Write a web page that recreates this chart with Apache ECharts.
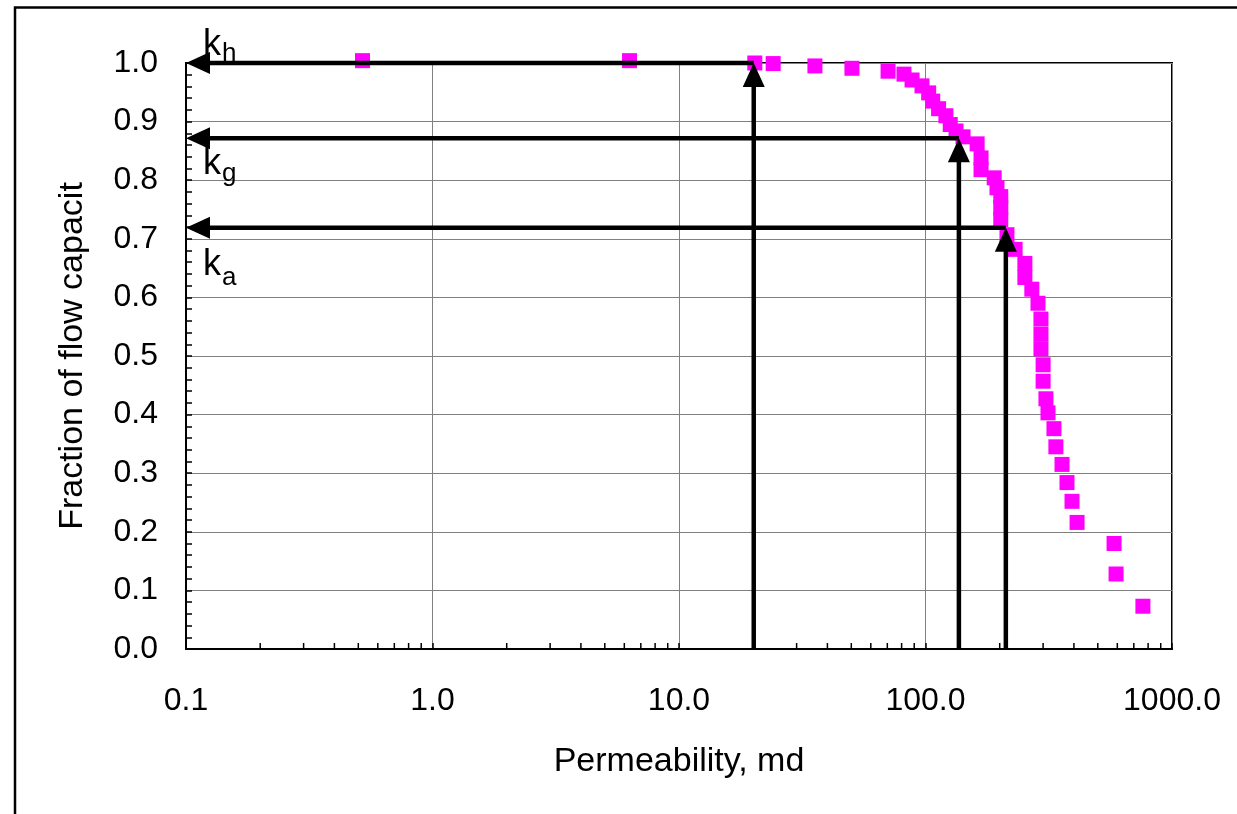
<!DOCTYPE html>
<html>
<head>
<meta charset="utf-8">
<script src="https://cdn.jsdelivr.net/npm/echarts@6/dist/echarts.min.js"></script>
<style>
html,body{margin:0;padding:0;background:#fff;}
#chart{width:1237px;height:814px;}
</style>
</head>
<body>
<div id="chart"></div>
<script>
// Permeability (md) and fraction of flow capacity
const permeability = [0.52, 6.3, 20.3, 24.1, 35.6, 50.3, 70.5, 81.8, 88.2, 96.8, 103, 107, 113, 121, 126, 133, 142, 162, 168, 168, 190, 195, 202, 202, 202, 214, 231, 253, 253, 270, 286, 294, 294, 294, 300, 300, 308, 314, 332, 338, 358, 375, 393, 412, 582, 593, 762];
const flowFraction = [1.004, 1.004, 1.0, 0.999, 0.995, 0.991, 0.986, 0.981, 0.971, 0.961, 0.949, 0.935, 0.922, 0.910, 0.895, 0.884, 0.874, 0.862, 0.838, 0.818, 0.804, 0.787, 0.772, 0.753, 0.733, 0.707, 0.682, 0.658, 0.634, 0.614, 0.590, 0.563, 0.537, 0.512, 0.485, 0.457, 0.427, 0.403, 0.376, 0.345, 0.315, 0.284, 0.252, 0.216, 0.180, 0.128, 0.073];

// Arrows: [xStart, yStart, xEnd(tip), yEnd(tip)]
const arrowsKh = [[20.1, 0, 20.1, 1.0], [20.1, 1.0, 0.1, 1.0]];
const arrowsKg = [[136.6, 0, 136.6, 0.8715], [136.6, 0.8715, 0.1, 0.8715]];
const arrowsKa = [[211.8, 0, 211.8, 0.719], [211.8, 0.719, 0.1, 0.719]];

// Minor tick positions on the log axis
const decades = [0.1, 1, 10, 100];
const minorMultipliers = [2, 3, 4, 5, 6, 7, 8, 9];
const minorTickValues = [];
decades.forEach(d => minorMultipliers.forEach(m => minorTickValues.push([+(d * m).toPrecision(3), 0])));

const xTickLabels = ['0.1', '1.0', '10.0', '100.0', '1000.0'];

const chart = echarts.init(document.getElementById('chart'));
const FONT = 'Liberation Sans, Arial, sans-serif';

function arrowRender(params, api) {
  const p1 = api.coord([api.value(0), api.value(1)]);
  const p2 = api.coord([api.value(2), api.value(3)]);
  const dx = p2[0] - p1[0], dy = p2[1] - p1[1];
  const len = Math.sqrt(dx * dx + dy * dy) || 1;
  const ux = dx / len, uy = dy / len;
  const L = 24, W = 22;
  const bx = p2[0] - ux * L, by = p2[1] - uy * L;
  const nx = -uy, ny = ux;
  return {
    type: 'group',
    children: [
      { type: 'line', shape: { x1: p1[0], y1: p1[1], x2: bx + ux * 2, y2: by + uy * 2 },
        style: { stroke: '#000', lineWidth: 4.5 } },
      { type: 'polygon', shape: { points: [[p2[0], p2[1]], [bx + nx * W / 2, by + ny * W / 2], [bx - nx * W / 2, by - ny * W / 2]] },
        style: { fill: '#000' } }
    ]
  };
}

const option = {
  animation: false,
  backgroundColor: '#fff',
  grid: { left: 186, right: 65, top: 63, bottom: 165, show: true, borderColor: '#000', borderWidth: 2, backgroundColor: 'transparent' },
  xAxis: {
    type: 'log', logBase: 10, min: 0.1, max: 1000,
    name: 'Permeability, md', nameLocation: 'middle', nameGap: 96,
    nameTextStyle: { fontFamily: FONT, fontSize: 34, color: '#000' },
    axisLine: { show: true, lineStyle: { color: '#000', width: 2 } },
    axisTick: { show: true, inside: true, length: 6, lineStyle: { color: '#000', width: 1.5 } },
    axisLabel: { fontFamily: FONT, fontSize: 32, color: '#000', margin: 36,
      formatter: v => { const i = Math.round(Math.log10(v)) + 1; return xTickLabels[i] !== undefined ? xTickLabels[i] : v.toFixed(1); } },
    splitLine: { show: true, lineStyle: { color: '#808080', width: 1 } },
    minorTick: { show: false }
  },
  yAxis: {
    type: 'value', min: 0, max: 1, interval: 0.1,
    name: 'Fraction of flow capacit', nameLocation: 'middle', nameGap: 96,
    nameTextStyle: { fontFamily: FONT, fontSize: 34, color: '#000' },
    axisLine: { show: true, lineStyle: { color: '#000', width: 2 } },
    axisTick: { show: true, inside: true, length: 6, lineStyle: { color: '#000', width: 1.5 } },
    minorTick: { show: true, splitNumber: 5, length: 6, lineStyle: { color: '#000', width: 1.5 } },
    axisLabel: { fontFamily: FONT, fontSize: 32, color: '#000', margin: 28, formatter: v => v.toFixed(1) },
    splitLine: { show: true, lineStyle: { color: '#808080', width: 1 } }
  },
  series: [
    {
      type: 'custom', name: 'minorTicks', silent: true, clip: false, z: 5,
      data: minorTickValues,
      encode: { x: 0, y: 1 },
      renderItem: (params, api) => {
        const p = api.coord([api.value(0), 0]);
        return { type: 'line', shape: { x1: p[0], y1: p[1], x2: p[0], y2: p[1] - 6 }, style: { stroke: '#000', lineWidth: 1.5 } };
      }
    },
    {
      type: 'scatter', name: 'data', z: 3, clip: false,
      symbol: 'rect', symbolSize: 15,
      itemStyle: { color: '#FF00FF', opacity: 1 },
      data: permeability.map((k, i) => [k, flowFraction[i]])
    },
    {
      type: 'custom', name: 'arrows', silent: true, clip: false, z: 6,
      data: arrowsKh.concat(arrowsKg, arrowsKa),
      encode: { x: [0, 2], y: [1, 3] },
      renderItem: arrowRender
    }
  ],
  graphic: [
    { type: 'rect', silent: true, z: 100, shape: { x: 15, y: 7.5, width: 1400, height: 1000 }, style: { fill: 'none', stroke: '#000', lineWidth: 2.5 } },
    { type: 'text', z: 100, x: 203, y: 45, style: { text: 'k', fontFamily: FONT, fontSize: 36, fill: '#000', verticalAlign: 'middle' } },
    { type: 'text', z: 100, x: 222, y: 54, style: { text: 'h', fontFamily: FONT, fontSize: 26, fill: '#000', verticalAlign: 'middle' } },
    { type: 'text', z: 100, x: 203, y: 164, style: { text: 'k', fontFamily: FONT, fontSize: 36, fill: '#000', verticalAlign: 'middle' } },
    { type: 'text', z: 100, x: 222, y: 174, style: { text: 'g', fontFamily: FONT, fontSize: 26, fill: '#000', verticalAlign: 'middle' } },
    { type: 'text', z: 100, x: 203, y: 265, style: { text: 'k', fontFamily: FONT, fontSize: 36, fill: '#000', verticalAlign: 'middle' } },
    { type: 'text', z: 100, x: 222, y: 278, style: { text: 'a', fontFamily: FONT, fontSize: 26, fill: '#000', verticalAlign: 'middle' } }
  ]
};
chart.setOption(option);
</script>
</body>
</html>
